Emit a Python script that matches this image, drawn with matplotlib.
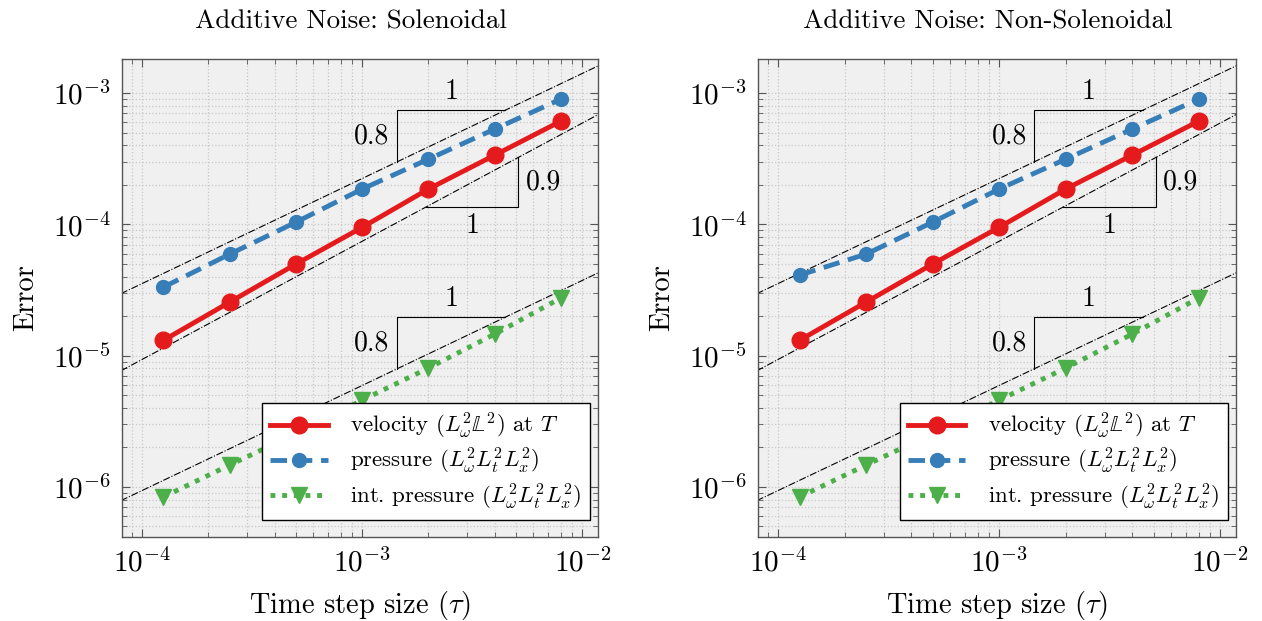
import numpy as np
import matplotlib
matplotlib.use("Agg")
import matplotlib.pyplot as plt
from matplotlib.ticker import LogLocator, NullFormatter

plt.rcParams['font.family'] = 'cmr10'
plt.rcParams['mathtext.fontset'] = 'cm'
plt.rcParams['axes.formatter.use_mathtext'] = True
plt.rcParams['axes.unicode_minus'] = False

# time step sizes
tau = [1.25e-4, 2.5e-4, 5e-4, 1e-3, 2e-3, 4e-3, 8e-3]

# errors, solenoidal forcing
vel_sol = [1.31e-5, 2.56e-5, 4.99e-5, 9.5e-5, 1.86e-4, 3.37e-4, 6.12e-4]
pre_sol = [3.33e-5, 5.94e-5, 1.04e-4, 1.86e-4, 3.14e-4, 5.32e-4, 9.0e-4]
ipr_sol = [8.4e-7, 1.47e-6, 2.55e-6, 4.59e-6, 8.05e-6, 1.46e-5, 2.75e-5]

# errors, non-solenoidal forcing
vel_non = [1.31e-5, 2.56e-5, 4.99e-5, 9.5e-5, 1.86e-4, 3.37e-4, 6.12e-4]
pre_non = [4.11e-5, 5.94e-5, 1.04e-4, 1.86e-4, 3.14e-4, 5.32e-4, 9.0e-4]
ipr_non = [8.4e-7, 1.47e-6, 2.55e-6, 4.59e-6, 8.05e-6, 1.46e-5, 2.75e-5]

# reference slopes C * tau^p
ref_lines = [(0.0562, 0.8), (0.0373, 0.9), (1.49e-3, 0.8)]
# slope triangles: (line index, x start, x end, above line?)
triangles = [(0, 1.44e-3, 4.47e-3, True), (1, 1.95e-3, 5.12e-3, False),
             (2, 1.44e-3, 4.47e-3, True)]

titles = ["Additive Noise: Solenoidal", "Additive Noise: Non-Solenoidal"]
labels = [r"velocity $(L^2_\omega\mathbb{L}^2)$ at $T$",
          r"pressure $(L^2_\omega L^2_t L^2_x)$",
          r"int. pressure $(L^2_\omega L^2_t L^2_x)$"]

red, blue, green = '#e41a1c', '#377eb8', '#4daf4a'

fig = plt.figure(figsize=(12.62, 6.21), dpi=100)
ax1 = fig.add_axes([0.0967, 0.1353, 0.3772, 0.7697])
ax2 = fig.add_axes([0.6006, 0.1353, 0.3788, 0.7697])

for ax, title, (vel, pre, ipr) in zip([ax1, ax2], titles,
                                       [(vel_sol, pre_sol, ipr_sol),
                                        (vel_non, pre_non, ipr_non)]):
    ax.set_xscale('log')
    ax.set_yscale('log')
    ax.set_xlim(8.1e-5, 1.18e-2)
    ax.set_ylim(4.16e-7, 1.82e-3)
    ax.set_facecolor('#f0f0f0')

    xs = np.array([8e-5, 1.2e-2])
    for C, p in ref_lines:
        ax.plot(xs, C * xs**p, color='black', lw=0.8, ls='-.', zorder=2)

    for i, x0, x1, above in triangles:
        C, p = ref_lines[i]
        f = lambda x: C * x**p
        if above:
            ax.plot([x0, x0, x1], [f(x0), f(x1), f(x1)], color='black', lw=0.8, zorder=2)
            ax.text(np.sqrt(x0 * x1), f(x1) * 1.1, "1", ha='center', va='bottom', fontsize=20)
            ax.text(x0 / 1.08, np.sqrt(f(x0) * f(x1)), "0.8", ha='right', va='center',
                    fontsize=20)
        else:
            ax.plot([x0, x1, x1], [f(x0), f(x0), f(x1)], color='black', lw=0.8, zorder=2)
            ax.text(np.sqrt(x0 * x1), f(x0) / 1.1, "1", ha='center', va='top', fontsize=20)
            ax.text(x1 * 1.08, np.sqrt(f(x0) * f(x1)), "0.9", ha='left', va='center',
                    fontsize=20)

    ax.plot(tau, vel, color=red, lw=3.5, marker='o', ms=12, label=labels[0], zorder=4)
    ax.plot(tau, pre, color=blue, lw=3.5, ls=(0, (3.4, 1.8)), marker='o', ms=10,
            label=labels[1], zorder=4)
    ax.plot(tau, ipr, color=green, lw=3.5, ls=(0, (1, 1.4)), marker='v', ms=11,
            label=labels[2], zorder=4)

    ax.xaxis.set_major_locator(LogLocator(base=10, numticks=10))
    ax.xaxis.set_minor_locator(LogLocator(base=10, subs=np.arange(2, 10), numticks=10))
    ax.yaxis.set_minor_locator(LogLocator(base=10, subs=np.arange(2, 10), numticks=10))
    ax.xaxis.set_minor_formatter(NullFormatter())
    ax.yaxis.set_minor_formatter(NullFormatter())
    ax.tick_params(which='both', direction='in', top=True, right=True, colors='#555555',
                   labelcolor='black', labelsize=21)
    ax.tick_params(which='major', length=6, width=0.8, pad=8)
    ax.tick_params(which='minor', length=3.5, width=0.6)
    ax.grid(True, which='both', color='#c8c8c8', ls=':', lw=0.9)
    ax.set_axisbelow(True)
    for s in ax.spines.values():
        s.set_color('#555555')
        s.set_linewidth(1.0)

    ax.set_title(title, fontsize=19.5, pad=22, x=0.48)
    ax.set_xlabel(r"Time step size $(\tau)$", fontsize=20.5, labelpad=8)
    ax.set_ylabel("Error", fontsize=20.5, labelpad=10)

    leg = ax.legend(loc='lower right', bbox_to_anchor=(0.983, 0.036), borderaxespad=0,
                    fontsize=16.5, fancybox=False, framealpha=1, edgecolor='black',
                    handlelength=2.5, borderpad=0.35, labelspacing=0.22, handletextpad=1.0)
    leg.get_frame().set_linewidth(1.0)
    leg.set_zorder(6)

fig.savefig("out.png", dpi=100)
